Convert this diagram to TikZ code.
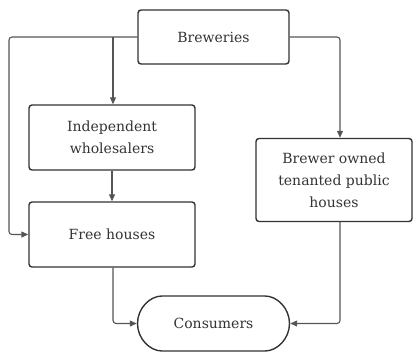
\documentclass[tikz,border=0pt]{standalone}
\usepackage{fontspec}
\setmainfont{DejaVu Serif}
\usetikzlibrary{arrows.meta,shapes.misc}
\definecolor{ln}{HTML}{555555}
\definecolor{tx}{HTML}{333333}
\begin{document}
\begin{tikzpicture}[x=1pt,y=-1pt,
  box/.style={draw=tx,line width=1.4pt,rounded corners=3pt,align=center,text=tx,
    font=\fontsize{14}{22}\selectfont,inner sep=0pt},
  conn/.style={draw=ln,line width=1.1pt,rounded corners=3pt,-{Triangle[length=7pt,width=6pt]}}]
\useasboundingbox (0,0) rectangle (420,353);
\node[box,minimum width=151pt,minimum height=54pt] (brew) at (213.5,37) {Breweries};
\node[box,minimum width=166pt,minimum height=65pt] (ind) at (112,137.5) {Independent\\wholesalers};
\node[box,minimum width=166pt,minimum height=65pt] (free) at (112,234.5) {Free houses};
\node[box,minimum width=156pt,minimum height=83pt] (pub) at (334,180) {Brewer owned\\tenanted public\\houses};
\node[box,rounded rectangle,minimum width=152pt,minimum height=55pt] (cons) at (213.5,323.5) {Consumers};
\coordinate (j) at (113,37);
\draw[conn] (brew.west) -- (9,37) -- (9,234.5) -- (free.west);
\draw[conn] (j) -- (ind.north -| j);
\draw[conn] (ind) -- (free);
\draw[conn] (brew.east) -- (340,37) -- (pub.north -| 340,0);
\draw[conn] (free.south -| 113,0) -- (113,323.5) -- (cons.west);
\draw[conn] (pub.south -| 340,0) -- (340,323.5) -- (cons.east);
\end{tikzpicture}
\end{document}
